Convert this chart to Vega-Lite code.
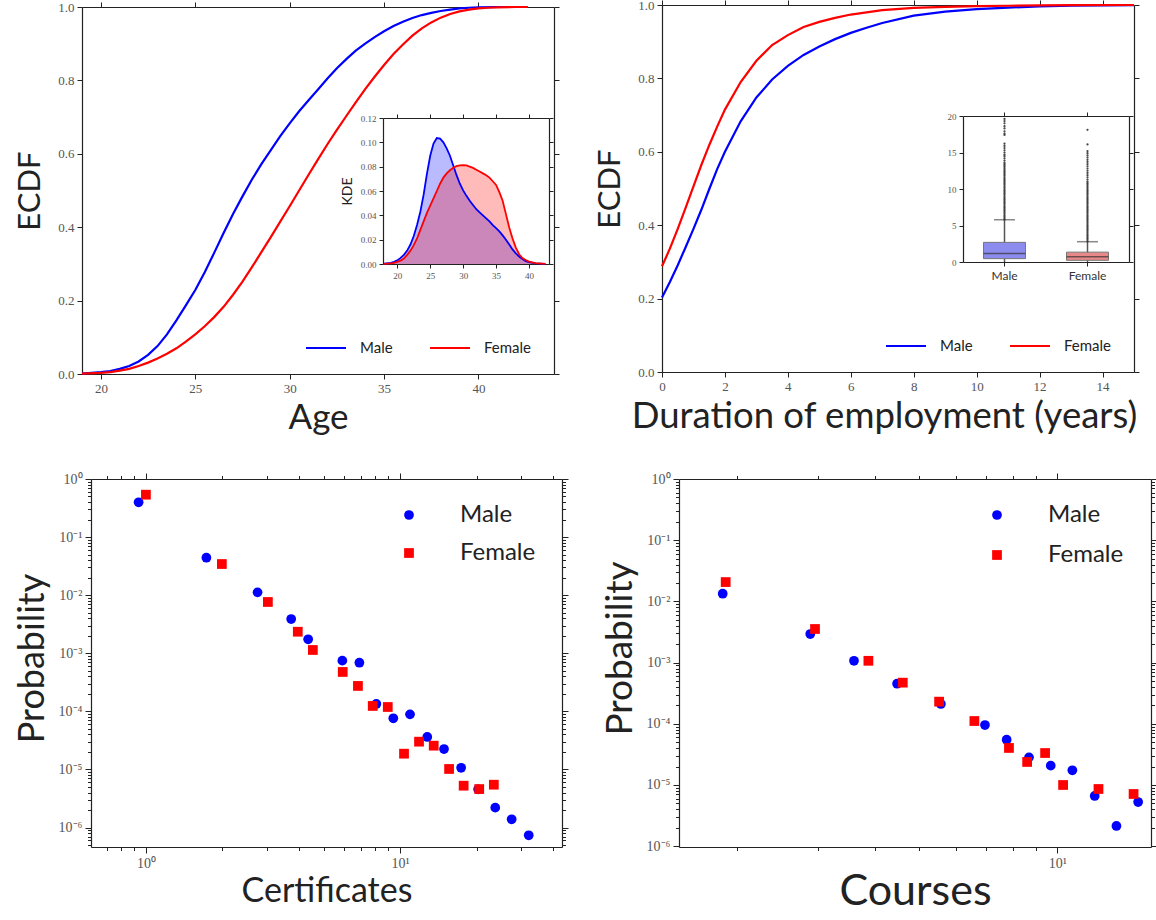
{
  "$schema": "https://vega.github.io/schema/vega-lite/v6.json",
  "width": 1156,
  "height": 920,
  "autosize": {"type": "none"},
  "padding": 0,
  "background": "white",
  "config": {
    "view": {"stroke": null},
    "axis": {"domainColor": "#222", "domainWidth": 1.2, "tickColor": "#222", "tickWidth": 1, "tickSize": 5, "labelFont": "Liberation Serif", "labelFontSize": 13, "labelColor": "#555", "labelPadding": 3, "titleFont": "Lato", "titleFontWeight": "normal", "titleColor": "#222", "grid": false, "labelOverlap": false, "labelFlush": false, "labelBound": false},
    "legend": {"padding": 0, "labelFont": "Lato", "labelColor": "#222"}
  },
  "datasets": {
    "ecdfAge": [
      {"sex":"Male","age":19.0,"ecdf":0.001},{"sex":"Male","age":20.0,"ecdf":0.005},{"sex":"Male","age":20.5,"ecdf":0.008},{"sex":"Male","age":21.0,"ecdf":0.014},{"sex":"Male","age":21.5,"ecdf":0.022},{"sex":"Male","age":22.0,"ecdf":0.034},{"sex":"Male","age":22.5,"ecdf":0.052},{"sex":"Male","age":23.0,"ecdf":0.076},{"sex":"Male","age":23.5,"ecdf":0.108},{"sex":"Male","age":24.0,"ecdf":0.146},{"sex":"Male","age":24.5,"ecdf":0.187},{"sex":"Male","age":25.0,"ecdf":0.229},{"sex":"Male","age":25.5,"ecdf":0.277},{"sex":"Male","age":26.0,"ecdf":0.330},{"sex":"Male","age":26.5,"ecdf":0.384},{"sex":"Male","age":27.0,"ecdf":0.436},{"sex":"Male","age":27.5,"ecdf":0.484},{"sex":"Male","age":28.0,"ecdf":0.530},{"sex":"Male","age":28.5,"ecdf":0.572},{"sex":"Male","age":29.0,"ecdf":0.610},{"sex":"Male","age":29.5,"ecdf":0.648},{"sex":"Male","age":30.0,"ecdf":0.683},{"sex":"Male","age":30.5,"ecdf":0.716},{"sex":"Male","age":31.0,"ecdf":0.746},{"sex":"Male","age":31.5,"ecdf":0.775},{"sex":"Male","age":32.0,"ecdf":0.805},{"sex":"Male","age":32.5,"ecdf":0.833},{"sex":"Male","age":33.0,"ecdf":0.858},{"sex":"Male","age":33.5,"ecdf":0.881},{"sex":"Male","age":34.0,"ecdf":0.900},{"sex":"Male","age":34.5,"ecdf":0.918},{"sex":"Male","age":35.0,"ecdf":0.934},{"sex":"Male","age":35.5,"ecdf":0.948},{"sex":"Male","age":36.0,"ecdf":0.960},{"sex":"Male","age":36.5,"ecdf":0.970},{"sex":"Male","age":37.0,"ecdf":0.978},{"sex":"Male","age":37.5,"ecdf":0.984},{"sex":"Male","age":38.0,"ecdf":0.989},{"sex":"Male","age":38.5,"ecdf":0.993},{"sex":"Male","age":39.0,"ecdf":0.996},{"sex":"Male","age":39.5,"ecdf":0.998},{"sex":"Male","age":40.0,"ecdf":0.999},{"sex":"Male","age":41.0,"ecdf":1.0},{"sex":"Male","age":42.6,"ecdf":1.0},
      {"sex":"Female","age":19.0,"ecdf":0.001},{"sex":"Female","age":20.0,"ecdf":0.003},{"sex":"Female","age":20.5,"ecdf":0.005},{"sex":"Female","age":21.0,"ecdf":0.009},{"sex":"Female","age":21.5,"ecdf":0.014},{"sex":"Female","age":22.0,"ecdf":0.022},{"sex":"Female","age":22.5,"ecdf":0.031},{"sex":"Female","age":23.0,"ecdf":0.042},{"sex":"Female","age":23.5,"ecdf":0.055},{"sex":"Female","age":24.0,"ecdf":0.070},{"sex":"Female","age":24.5,"ecdf":0.088},{"sex":"Female","age":25.0,"ecdf":0.108},{"sex":"Female","age":25.5,"ecdf":0.130},{"sex":"Female","age":26.0,"ecdf":0.155},{"sex":"Female","age":26.5,"ecdf":0.183},{"sex":"Female","age":27.0,"ecdf":0.216},{"sex":"Female","age":27.5,"ecdf":0.252},{"sex":"Female","age":28.0,"ecdf":0.291},{"sex":"Female","age":28.5,"ecdf":0.332},{"sex":"Female","age":29.0,"ecdf":0.373},{"sex":"Female","age":29.5,"ecdf":0.415},{"sex":"Female","age":30.0,"ecdf":0.457},{"sex":"Female","age":30.5,"ecdf":0.500},{"sex":"Female","age":31.0,"ecdf":0.543},{"sex":"Female","age":31.5,"ecdf":0.585},{"sex":"Female","age":32.0,"ecdf":0.626},{"sex":"Female","age":32.5,"ecdf":0.665},{"sex":"Female","age":33.0,"ecdf":0.703},{"sex":"Female","age":33.5,"ecdf":0.740},{"sex":"Female","age":34.0,"ecdf":0.776},{"sex":"Female","age":34.5,"ecdf":0.810},{"sex":"Female","age":35.0,"ecdf":0.842},{"sex":"Female","age":35.5,"ecdf":0.872},{"sex":"Female","age":36.0,"ecdf":0.898},{"sex":"Female","age":36.5,"ecdf":0.922},{"sex":"Female","age":37.0,"ecdf":0.942},{"sex":"Female","age":37.5,"ecdf":0.958},{"sex":"Female","age":38.0,"ecdf":0.971},{"sex":"Female","age":38.5,"ecdf":0.981},{"sex":"Female","age":39.0,"ecdf":0.988},{"sex":"Female","age":39.5,"ecdf":0.993},{"sex":"Female","age":40.0,"ecdf":0.996},{"sex":"Female","age":40.5,"ecdf":0.998},{"sex":"Female","age":41.0,"ecdf":0.999},{"sex":"Female","age":42.0,"ecdf":1.0},{"sex":"Female","age":42.6,"ecdf":1.0}
    ],
    "ecdfDur": [
      {"sex":"Male","t":0.0,"ecdf":0.203},{"sex":"Male","t":0.25,"ecdf":0.245},{"sex":"Male","t":0.5,"ecdf":0.291},{"sex":"Male","t":0.75,"ecdf":0.340},{"sex":"Male","t":1.0,"ecdf":0.390},{"sex":"Male","t":1.25,"ecdf":0.442},{"sex":"Male","t":1.5,"ecdf":0.498},{"sex":"Male","t":1.75,"ecdf":0.552},{"sex":"Male","t":2.0,"ecdf":0.600},{"sex":"Male","t":2.5,"ecdf":0.683},{"sex":"Male","t":3.0,"ecdf":0.748},{"sex":"Male","t":3.5,"ecdf":0.797},{"sex":"Male","t":4.0,"ecdf":0.834},{"sex":"Male","t":4.5,"ecdf":0.864},{"sex":"Male","t":5.0,"ecdf":0.887},{"sex":"Male","t":5.5,"ecdf":0.907},{"sex":"Male","t":6.0,"ecdf":0.924},{"sex":"Male","t":6.5,"ecdf":0.938},{"sex":"Male","t":7.0,"ecdf":0.951},{"sex":"Male","t":8.0,"ecdf":0.971},{"sex":"Male","t":9.0,"ecdf":0.982},{"sex":"Male","t":10.0,"ecdf":0.989},{"sex":"Male","t":11.0,"ecdf":0.993},{"sex":"Male","t":12.0,"ecdf":0.996},{"sex":"Male","t":13.0,"ecdf":0.998},{"sex":"Male","t":14.0,"ecdf":0.999},{"sex":"Male","t":15.0,"ecdf":0.9995},
      {"sex":"Female","t":0.0,"ecdf":0.288},{"sex":"Female","t":0.25,"ecdf":0.336},{"sex":"Female","t":0.5,"ecdf":0.390},{"sex":"Female","t":0.75,"ecdf":0.447},{"sex":"Female","t":1.0,"ecdf":0.506},{"sex":"Female","t":1.25,"ecdf":0.564},{"sex":"Female","t":1.5,"ecdf":0.618},{"sex":"Female","t":1.75,"ecdf":0.668},{"sex":"Female","t":2.0,"ecdf":0.715},{"sex":"Female","t":2.5,"ecdf":0.790},{"sex":"Female","t":3.0,"ecdf":0.848},{"sex":"Female","t":3.5,"ecdf":0.891},{"sex":"Female","t":4.0,"ecdf":0.918},{"sex":"Female","t":4.5,"ecdf":0.940},{"sex":"Female","t":5.0,"ecdf":0.954},{"sex":"Female","t":5.5,"ecdf":0.965},{"sex":"Female","t":6.0,"ecdf":0.974},{"sex":"Female","t":7.0,"ecdf":0.986},{"sex":"Female","t":8.0,"ecdf":0.992},{"sex":"Female","t":9.0,"ecdf":0.995},{"sex":"Female","t":10.0,"ecdf":0.997},{"sex":"Female","t":11.0,"ecdf":0.998},{"sex":"Female","t":12.0,"ecdf":0.999},{"sex":"Female","t":13.0,"ecdf":0.9995},{"sex":"Female","t":15.0,"ecdf":1.0}
    ],
    "kde": [
      {"sex":"Male","age":18.0,"kde":0.0002},{"sex":"Male","age":19.0,"kde":0.001},{"sex":"Male","age":19.5,"kde":0.0018},{"sex":"Male","age":20.0,"kde":0.003},{"sex":"Male","age":20.5,"kde":0.005},{"sex":"Male","age":21.0,"kde":0.0075},{"sex":"Male","age":21.5,"kde":0.011},{"sex":"Male","age":22.0,"kde":0.016},{"sex":"Male","age":22.5,"kde":0.023},{"sex":"Male","age":23.0,"kde":0.032},{"sex":"Male","age":23.5,"kde":0.043},{"sex":"Male","age":24.0,"kde":0.057},{"sex":"Male","age":24.5,"kde":0.074},{"sex":"Male","age":25.0,"kde":0.089},{"sex":"Male","age":25.5,"kde":0.099},{"sex":"Male","age":26.0,"kde":0.1035},{"sex":"Male","age":26.5,"kde":0.103},{"sex":"Male","age":27.0,"kde":0.100},{"sex":"Male","age":27.5,"kde":0.095},{"sex":"Male","age":28.0,"kde":0.089},{"sex":"Male","age":28.5,"kde":0.081},{"sex":"Male","age":29.0,"kde":0.073},{"sex":"Male","age":29.5,"kde":0.066},{"sex":"Male","age":30.0,"kde":0.0605},{"sex":"Male","age":30.5,"kde":0.056},{"sex":"Male","age":31.0,"kde":0.052},{"sex":"Male","age":31.5,"kde":0.0485},{"sex":"Male","age":32.0,"kde":0.045},{"sex":"Male","age":32.5,"kde":0.0425},{"sex":"Male","age":33.0,"kde":0.040},{"sex":"Male","age":33.5,"kde":0.0375},{"sex":"Male","age":34.0,"kde":0.035},{"sex":"Male","age":34.5,"kde":0.032},{"sex":"Male","age":35.0,"kde":0.0295},{"sex":"Male","age":35.5,"kde":0.0268},{"sex":"Male","age":36.0,"kde":0.0235},{"sex":"Male","age":36.5,"kde":0.020},{"sex":"Male","age":37.0,"kde":0.016},{"sex":"Male","age":37.5,"kde":0.012},{"sex":"Male","age":38.0,"kde":0.0088},{"sex":"Male","age":38.5,"kde":0.0062},{"sex":"Male","age":39.0,"kde":0.004},{"sex":"Male","age":39.5,"kde":0.0024},{"sex":"Male","age":40.0,"kde":0.0015},{"sex":"Male","age":41.0,"kde":0.0005},{"sex":"Male","age":42.5,"kde":0.0001},
      {"sex":"Female","age":18.0,"kde":0.0001},{"sex":"Female","age":19.0,"kde":0.0005},{"sex":"Female","age":19.5,"kde":0.001},{"sex":"Female","age":20.0,"kde":0.0018},{"sex":"Female","age":20.5,"kde":0.0028},{"sex":"Female","age":21.0,"kde":0.0045},{"sex":"Female","age":21.5,"kde":0.0075},{"sex":"Female","age":22.0,"kde":0.011},{"sex":"Female","age":22.5,"kde":0.0155},{"sex":"Female","age":23.0,"kde":0.021},{"sex":"Female","age":23.5,"kde":0.028},{"sex":"Female","age":24.0,"kde":0.035},{"sex":"Female","age":24.5,"kde":0.042},{"sex":"Female","age":25.0,"kde":0.048},{"sex":"Female","age":25.5,"kde":0.054},{"sex":"Female","age":26.0,"kde":0.060},{"sex":"Female","age":26.5,"kde":0.066},{"sex":"Female","age":27.0,"kde":0.071},{"sex":"Female","age":27.5,"kde":0.0745},{"sex":"Female","age":28.0,"kde":0.077},{"sex":"Female","age":28.5,"kde":0.079},{"sex":"Female","age":29.0,"kde":0.0805},{"sex":"Female","age":29.5,"kde":0.081},{"sex":"Female","age":30.0,"kde":0.0812},{"sex":"Female","age":30.5,"kde":0.081},{"sex":"Female","age":31.0,"kde":0.080},{"sex":"Female","age":31.5,"kde":0.079},{"sex":"Female","age":32.0,"kde":0.0775},{"sex":"Female","age":32.5,"kde":0.076},{"sex":"Female","age":33.0,"kde":0.0745},{"sex":"Female","age":33.5,"kde":0.073},{"sex":"Female","age":34.0,"kde":0.071},{"sex":"Female","age":34.5,"kde":0.068},{"sex":"Female","age":35.0,"kde":0.065},{"sex":"Female","age":35.5,"kde":0.059},{"sex":"Female","age":36.0,"kde":0.052},{"sex":"Female","age":36.5,"kde":0.041},{"sex":"Female","age":37.0,"kde":0.030},{"sex":"Female","age":37.5,"kde":0.021},{"sex":"Female","age":38.0,"kde":0.0135},{"sex":"Female","age":38.5,"kde":0.008},{"sex":"Female","age":39.0,"kde":0.0048},{"sex":"Female","age":39.5,"kde":0.0033},{"sex":"Female","age":40.0,"kde":0.002},{"sex":"Female","age":41.0,"kde":0.0007},{"sex":"Female","age":42.5,"kde":0.0001}
    ],
    "box": [
      {"sex":"Male","lo":0,"q1":0.46,"med":1.18,"q3":2.69,"hi":5.79},
      {"sex":"Female","lo":0,"q1":0.23,"med":0.73,"q3":1.35,"hi":2.78}
    ],
    "outl": [
      {"sex":"Male","v":5.8},{"sex":"Male","v":6.0},{"sex":"Male","v":6.2},{"sex":"Male","v":6.4},{"sex":"Male","v":6.6},{"sex":"Male","v":6.8},{"sex":"Male","v":7.0},{"sex":"Male","v":7.2},{"sex":"Male","v":7.4},{"sex":"Male","v":7.6},{"sex":"Male","v":7.8},{"sex":"Male","v":8.0},{"sex":"Male","v":8.2},{"sex":"Male","v":8.4},{"sex":"Male","v":8.6},{"sex":"Male","v":8.8},{"sex":"Male","v":9.0},{"sex":"Male","v":9.2},{"sex":"Male","v":9.4},{"sex":"Male","v":9.6},{"sex":"Male","v":9.8},{"sex":"Male","v":10.0},{"sex":"Male","v":10.2},{"sex":"Male","v":10.4},{"sex":"Male","v":10.6},{"sex":"Male","v":10.8},{"sex":"Male","v":11.0},{"sex":"Male","v":11.2},{"sex":"Male","v":11.4},{"sex":"Male","v":11.6},{"sex":"Male","v":11.8},{"sex":"Male","v":12.0},{"sex":"Male","v":12.2},{"sex":"Male","v":12.4},{"sex":"Male","v":12.6},{"sex":"Male","v":12.8},{"sex":"Male","v":13.0},{"sex":"Male","v":13.2},{"sex":"Male","v":13.4},{"sex":"Male","v":13.6},{"sex":"Male","v":13.9},{"sex":"Male","v":14.2},{"sex":"Male","v":14.5},{"sex":"Male","v":14.7},{"sex":"Male","v":15.0},{"sex":"Male","v":15.3},{"sex":"Male","v":15.6},{"sex":"Male","v":15.9},{"sex":"Male","v":16.2},{"sex":"Male","v":17.4},{"sex":"Male","v":17.6},{"sex":"Male","v":17.9},{"sex":"Male","v":18.3},{"sex":"Male","v":18.6},{"sex":"Male","v":19.0},{"sex":"Male","v":19.3},{"sex":"Male","v":19.6},
      {"sex":"Female","v":2.8},{"sex":"Female","v":3.0},{"sex":"Female","v":3.2},{"sex":"Female","v":3.4},{"sex":"Female","v":3.6},{"sex":"Female","v":3.8},{"sex":"Female","v":4.0},{"sex":"Female","v":4.2},{"sex":"Female","v":4.4},{"sex":"Female","v":4.6},{"sex":"Female","v":4.8},{"sex":"Female","v":5.0},{"sex":"Female","v":5.2},{"sex":"Female","v":5.4},{"sex":"Female","v":5.6},{"sex":"Female","v":5.8},{"sex":"Female","v":6.0},{"sex":"Female","v":6.2},{"sex":"Female","v":6.4},{"sex":"Female","v":6.6},{"sex":"Female","v":6.8},{"sex":"Female","v":7.0},{"sex":"Female","v":7.2},{"sex":"Female","v":7.4},{"sex":"Female","v":7.6},{"sex":"Female","v":7.8},{"sex":"Female","v":8.0},{"sex":"Female","v":8.2},{"sex":"Female","v":8.4},{"sex":"Female","v":8.6},{"sex":"Female","v":8.8},{"sex":"Female","v":9.0},{"sex":"Female","v":9.2},{"sex":"Female","v":9.4},{"sex":"Female","v":9.6},{"sex":"Female","v":9.8},{"sex":"Female","v":10.0},{"sex":"Female","v":10.2},{"sex":"Female","v":10.4},{"sex":"Female","v":10.6},{"sex":"Female","v":10.8},{"sex":"Female","v":11.0},{"sex":"Female","v":11.3},{"sex":"Female","v":11.6},{"sex":"Female","v":11.9},{"sex":"Female","v":12.2},{"sex":"Female","v":12.5},{"sex":"Female","v":12.8},{"sex":"Female","v":13.1},{"sex":"Female","v":13.4},{"sex":"Female","v":13.7},{"sex":"Female","v":14.0},{"sex":"Female","v":14.3},{"sex":"Female","v":14.6},{"sex":"Female","v":14.9},{"sex":"Female","v":15.2},{"sex":"Female","v":16.1},{"sex":"Female","v":18.1}
    ],
    "cert": [
      {"sex":"Male","x":0.936,"p":0.397},{"sex":"Male","x":1.73,"p":0.0442},{"sex":"Male","x":2.75,"p":0.0112},{"sex":"Male","x":3.73,"p":0.00389},{"sex":"Male","x":4.35,"p":0.00174},{"sex":"Male","x":5.93,"p":0.000746},{"sex":"Male","x":6.92,"p":0.000689},{"sex":"Male","x":8.07,"p":0.000134},{"sex":"Male","x":9.41,"p":0.000076},{"sex":"Male","x":10.95,"p":0.000089},{"sex":"Male","x":12.8,"p":0.0000363},{"sex":"Male","x":14.9,"p":0.0000225},{"sex":"Male","x":17.4,"p":0.0000107},{"sex":"Male","x":20.3,"p":0.00000456},{"sex":"Male","x":23.7,"p":0.0000022},{"sex":"Male","x":27.5,"p":0.00000139},{"sex":"Male","x":32.1,"p":0.000000737},
      {"sex":"Female","x":1.0,"p":0.537},{"sex":"Female","x":1.99,"p":0.0344},{"sex":"Female","x":3.02,"p":0.00764},{"sex":"Female","x":3.96,"p":0.00235},{"sex":"Female","x":4.54,"p":0.00114},{"sex":"Female","x":5.95,"p":0.000477},{"sex":"Female","x":6.83,"p":0.000274},{"sex":"Female","x":7.81,"p":0.000124},{"sex":"Female","x":8.95,"p":0.000119},{"sex":"Female","x":10.37,"p":0.0000187},{"sex":"Female","x":11.88,"p":0.0000301},{"sex":"Female","x":13.57,"p":0.0000257},{"sex":"Female","x":15.6,"p":0.0000102},{"sex":"Female","x":17.8,"p":0.00000526},{"sex":"Female","x":20.5,"p":0.0000046},{"sex":"Female","x":23.4,"p":0.00000547}
    ],
    "courses": [
      {"sex":"Male","x":1.862,"p":0.01336},{"sex":"Male","x":2.89,"p":0.00293},{"sex":"Male","x":3.6,"p":0.00107},{"sex":"Male","x":4.47,"p":0.000452},{"sex":"Male","x":5.57,"p":0.000211},{"sex":"Male","x":6.95,"p":0.0000955},{"sex":"Male","x":7.75,"p":0.000055},{"sex":"Male","x":8.67,"p":0.0000283},{"sex":"Male","x":9.67,"p":0.0000207},{"sex":"Male","x":10.78,"p":0.0000174},{"sex":"Male","x":12.06,"p":0.00000661},{"sex":"Male","x":13.45,"p":0.00000214},{"sex":"Male","x":15.0,"p":0.00000527},
      {"sex":"Female","x":1.89,"p":0.0207},{"sex":"Female","x":2.96,"p":0.00354},{"sex":"Female","x":3.87,"p":0.00107},{"sex":"Female","x":4.6,"p":0.00047},{"sex":"Female","x":5.52,"p":0.00023},{"sex":"Female","x":6.59,"p":0.000111},{"sex":"Female","x":7.84,"p":0.0000403},{"sex":"Female","x":8.59,"p":0.0000238},{"sex":"Female","x":9.4,"p":0.0000333},{"sex":"Female","x":10.29,"p":0.00001},{"sex":"Female","x":12.29,"p":0.0000086},{"sex":"Female","x":14.66,"p":0.00000713}
    ]
  },
  "resolve": {
    "scale": {"x": "independent", "y": "independent", "color": "independent", "shape": "independent"},
    "axis": {"x": "independent", "y": "independent"},
    "legend": {"color": "independent", "shape": "independent"}
  },
  "layer": [
    {
      "data": {"name": "ecdfAge"},
      "mark": {"type": "line", "strokeWidth": 2.2},
      "encoding": {
        "x": {"field": "age", "type": "quantitative", "scale": {"domain": [19, 44], "range": [82, 554], "nice": false, "zero": false},
          "axis": {"orient": "bottom", "offset": -546, "values": [20, 25, 30, 35, 40], "title": "Age", "titleFontSize": 35, "titlePadding": 5}},
        "y": {"field": "ecdf", "type": "quantitative", "scale": {"domain": [0, 1], "range": [374, 7], "nice": false, "zero": false},
          "axis": {"orient": "left", "offset": -82, "values": [0, 0.2, 0.4, 0.6, 0.8, 1], "format": ".1f", "title": "ECDF", "titleFontSize": 31, "titlePadding": 11}},
        "color": {"field": "sex", "type": "nominal", "scale": {"domain": ["Male", "Female"], "range": ["#0000ff", "#ff0000"]},
          "legend": {"orient": "none", "legendX": 305, "legendY": 327, "direction": "horizontal", "title": null, "symbolType": "stroke", "symbolSize": 1600, "symbolStrokeWidth": 2, "labelFontSize": 15, "labelOffset": 13, "columnPadding": 33}}
      }
    },
    {
      "data": {"name": "ecdfAge"},
      "mark": {"type": "point", "opacity": 0},
      "encoding": {
        "x": {"field": "age", "type": "quantitative", "scale": {"domain": [19, 44], "range": [82, 554], "nice": false, "zero": false},
          "axis": {"orient": "top", "offset": -7, "values": [20, 25, 30, 35, 40], "labels": false, "title": null}},
        "y": {"field": "ecdf", "type": "quantitative", "scale": {"domain": [0, 1], "range": [374, 7], "nice": false, "zero": false},
          "axis": {"orient": "right", "offset": -602, "values": [0, 0.2, 0.4, 0.6, 0.8, 1], "labels": false, "title": null}}
      }
    },
    {
      "data": {"name": "kde"},
      "mark": {"type": "area", "fillOpacity": 0.27},
      "encoding": {
        "x": {"field": "age", "type": "quantitative", "scale": {"domain": [17.83, 43.04], "range": [383, 549], "nice": false, "zero": false},
          "axis": {"orient": "bottom", "offset": -656, "values": [20, 25, 30, 35, 40], "title": null, "labelFontSize": 9, "tickSize": 4}},
        "y": {"field": "kde", "type": "quantitative", "stack": null, "scale": {"domain": [0, 0.12], "range": [264, 118], "nice": false, "zero": false},
          "axis": {"orient": "left", "offset": -383, "values": [0, 0.02, 0.04, 0.06, 0.08, 0.1, 0.12], "format": ".2f", "title": "KDE", "titleFontSize": 14, "titlePadding": 6, "labelFontSize": 9, "tickSize": 4}},
        "y2": {"datum": 0},
        "color": {"field": "sex", "type": "nominal", "scale": {"domain": ["Male", "Female"], "range": ["#0000ff", "#ff0000"]}, "legend": null}
      }
    },
    {
      "data": {"name": "kde"},
      "mark": {"type": "line", "strokeWidth": 1.8},
      "encoding": {
        "x": {"field": "age", "type": "quantitative", "scale": {"domain": [17.83, 43.04], "range": [383, 549], "nice": false, "zero": false},
          "axis": {"orient": "top", "offset": -118, "values": [20, 25, 30, 35, 40], "labels": false, "title": null, "tickSize": 4}},
        "y": {"field": "kde", "type": "quantitative", "scale": {"domain": [0, 0.12], "range": [264, 118], "nice": false, "zero": false},
          "axis": {"orient": "right", "offset": -607, "values": [0, 0.02, 0.04, 0.06, 0.08, 0.1, 0.12], "labels": false, "title": null, "tickSize": 4}},
        "color": {"field": "sex", "type": "nominal", "scale": {"domain": ["Male", "Female"], "range": ["#0000ff", "#ff0000"]}, "legend": null}
      }
    },
    {
      "data": {"name": "ecdfDur"},
      "mark": {"type": "line", "strokeWidth": 2.2},
      "encoding": {
        "x": {"field": "t", "type": "quantitative", "scale": {"domain": [0, 15], "range": [662, 1134], "nice": false, "zero": false},
          "axis": {"orient": "bottom", "offset": -548, "values": [0, 2, 4, 6, 8, 10, 12, 14], "format": "d", "title": "Duration of employment (years)", "titleFontSize": 36.5, "titlePadding": 5, "titleX": 884}},
        "y": {"field": "ecdf", "type": "quantitative", "scale": {"domain": [0, 1], "range": [372, 5], "nice": false, "zero": false},
          "axis": {"orient": "left", "offset": -662, "values": [0, 0.2, 0.4, 0.6, 0.8, 1], "format": ".1f", "title": "ECDF", "titleFontSize": 31, "titlePadding": 11}},
        "color": {"field": "sex", "type": "nominal", "scale": {"domain": ["Male", "Female"], "range": ["#0000ff", "#ff0000"]},
          "legend": {"orient": "none", "legendX": 885, "legendY": 325, "direction": "horizontal", "title": null, "symbolType": "stroke", "symbolSize": 1600, "symbolStrokeWidth": 2, "labelFontSize": 15, "labelOffset": 13, "columnPadding": 33}}
      }
    },
    {
      "data": {"name": "ecdfDur"},
      "mark": {"type": "point", "opacity": 0},
      "encoding": {
        "x": {"field": "t", "type": "quantitative", "scale": {"domain": [0, 15], "range": [662, 1134], "nice": false, "zero": false},
          "axis": {"orient": "top", "offset": -5, "values": [0, 2, 4, 6, 8, 10, 12, 14], "labels": false, "title": null}},
        "y": {"field": "ecdf", "type": "quantitative", "scale": {"domain": [0, 1], "range": [372, 5], "nice": false, "zero": false},
          "axis": {"orient": "right", "offset": -22, "values": [0, 0.2, 0.4, 0.6, 0.8, 1], "labels": false, "title": null}}
      }
    },
    {
      "data": {"name": "box"},
      "mark": {"type": "rule", "color": "#555", "strokeWidth": 1.5},
      "encoding": {
        "x": {"field": "sex", "type": "nominal", "sort": null, "scale": {"type": "band", "domain": ["Male", "Female"], "range": [963, 1129], "paddingInner": 0, "paddingOuter": 0},
          "axis": {"orient": "bottom", "offset": -658, "title": null, "labelFont": "Lato", "labelFontSize": 12, "labelColor": "#333", "labelAngle": 0, "tickSize": 4, "labelPadding": 4}},
        "y": {"field": "lo", "type": "quantitative", "scale": {"domain": [0, 20], "range": [262, 116], "nice": false, "zero": false},
          "axis": {"orient": "left", "offset": -963, "values": [0, 5, 10, 15, 20], "title": null, "labelFontSize": 9, "tickSize": 4}},
        "y2": {"field": "hi"}
      }
    },
    {
      "data": {"name": "box"},
      "mark": {"type": "bar", "width": 42, "stroke": "#777", "strokeWidth": 1},
      "encoding": {
        "x": {"field": "sex", "type": "nominal", "sort": null, "scale": {"type": "band", "domain": ["Male", "Female"], "range": [963, 1129], "paddingInner": 0, "paddingOuter": 0},
          "axis": {"orient": "top", "offset": -116, "labels": false, "title": null, "tickSize": 4}},
        "y": {"field": "q1", "type": "quantitative", "stack": null, "scale": {"domain": [0, 20], "range": [262, 116], "nice": false, "zero": false},
          "axis": {"orient": "right", "offset": -27, "values": [0, 5, 10, 15, 20], "labels": false, "title": null, "tickSize": 4}},
        "y2": {"field": "q3"},
        "color": {"field": "sex", "type": "nominal", "scale": {"domain": ["Male", "Female"], "range": ["#8c8cee", "#e88888"]}, "legend": null}
      }
    },
    {
      "data": {"name": "box"},
      "mark": {"type": "tick", "size": 42, "thickness": 1.5, "color": "#333"},
      "encoding": {
        "x": {"field": "sex", "type": "nominal", "sort": null, "scale": {"type": "band", "domain": ["Male", "Female"], "range": [963, 1129], "paddingInner": 0, "paddingOuter": 0}, "axis": null},
        "y": {"field": "med", "type": "quantitative", "scale": {"domain": [0, 20], "range": [262, 116], "nice": false, "zero": false}, "axis": null}
      }
    },
    {
      "data": {"name": "box"},
      "mark": {"type": "tick", "size": 21, "thickness": 1.5, "color": "#555"},
      "encoding": {
        "x": {"field": "sex", "type": "nominal", "sort": null, "scale": {"type": "band", "domain": ["Male", "Female"], "range": [963, 1129], "paddingInner": 0, "paddingOuter": 0}, "axis": null},
        "y": {"field": "hi", "type": "quantitative", "scale": {"domain": [0, 20], "range": [262, 116], "nice": false, "zero": false}, "axis": null}
      }
    },
    {
      "data": {"name": "outl"},
      "mark": {"type": "point", "filled": true, "size": 5, "color": "#333", "opacity": 0.9},
      "encoding": {
        "x": {"field": "sex", "type": "nominal", "sort": null, "scale": {"type": "band", "domain": ["Male", "Female"], "range": [963, 1129], "paddingInner": 0, "paddingOuter": 0}, "axis": null},
        "y": {"field": "v", "type": "quantitative", "scale": {"domain": [0, 20], "range": [262, 116], "nice": false, "zero": false}, "axis": null}
      }
    },
    {
      "data": {"name": "cert"},
      "mark": {"type": "point", "filled": true, "size": 95, "opacity": 1},
      "encoding": {
        "x": {"field": "x", "type": "quantitative", "scale": {"type": "log", "domain": [0.608, 43.4], "range": [91, 562], "nice": false},
          "axis": {"orient": "bottom", "offset": -73, "values": [0.7, 0.8, 0.9, 1, 2, 3, 4, 5, 6, 7, 8, 9, 10, 20, 30, 40], "labelExpr": "datum.value == 1 ? '10⁰' : datum.value == 10 ? '10¹' : ''", "labelFontSize": 14, "tickSize": {"condition": {"test": "datum.value == 1 || datum.value == 10", "value": 6}, "value": 3.5}, "title": "Certificates", "titleFontSize": 34, "titlePadding": 4}},
        "y": {"field": "p", "type": "quantitative", "scale": {"type": "log", "domain": [0.000000463, 1], "range": [847, 479], "nice": false},
          "axis": {"orient": "left", "offset": -91, "values": [0.0000005, 0.0000006, 0.0000007, 0.0000008, 0.0000009, 0.000001, 0.000002, 0.000003, 0.000004, 0.000005, 0.000006, 0.000007, 0.000008, 0.000009, 0.00001, 0.00002, 0.00003, 0.00004, 0.00005, 0.00006, 0.00007, 0.00008, 0.00009, 0.0001, 0.0002, 0.0003, 0.0004, 0.0005, 0.0006, 0.0007, 0.0008, 0.0009, 0.001, 0.002, 0.003, 0.004, 0.005, 0.006, 0.007, 0.008, 0.009, 0.01, 0.02, 0.03, 0.04, 0.05, 0.06, 0.07, 0.08, 0.09, 0.1, 0.2, 0.3, 0.4, 0.5, 0.6, 0.7, 0.8, 0.9, 1],
            "labelExpr": "datum.value == 1 ? '10⁰' : datum.value == 0.1 ? '10⁻¹' : datum.value == 0.01 ? '10⁻²' : datum.value == 0.001 ? '10⁻³' : datum.value == 0.0001 ? '10⁻⁴' : datum.value == 0.00001 ? '10⁻⁵' : datum.value == 0.000001 ? '10⁻⁶' : ''",
            "labelFontSize": 14, "tickSize": {"condition": {"test": "indexof([1, 0.1, 0.01, 0.001, 0.0001, 0.00001, 0.000001], datum.value) >= 0", "value": 6}, "value": 3.5}, "title": "Probability", "titleFontSize": 36, "titlePadding": 7, "titleY": 658}},
        "color": {"field": "sex", "type": "nominal", "scale": {"domain": ["Male", "Female"], "range": ["#0000ff", "#ff0000"]},
          "legend": {"orient": "none", "legendX": 397, "legendY": 503, "direction": "vertical", "title": null, "symbolSize": 95, "labelFontSize": 24, "labelOffset": 39, "rowPadding": 14}},
        "shape": {"field": "sex", "type": "nominal", "scale": {"domain": ["Male", "Female"], "range": ["circle", "square"]},
          "legend": {"orient": "none", "legendX": 397, "legendY": 503, "direction": "vertical", "title": null, "symbolSize": 95, "labelFontSize": 24, "labelOffset": 39, "rowPadding": 14}}
      }
    },
    {
      "data": {"name": "cert"},
      "mark": {"type": "point", "opacity": 0},
      "encoding": {
        "x": {"field": "x", "type": "quantitative", "scale": {"type": "log", "domain": [0.608, 43.4], "range": [91, 562], "nice": false},
          "axis": {"orient": "top", "offset": -479, "values": [0.7, 0.8, 0.9, 1, 2, 3, 4, 5, 6, 7, 8, 9, 10, 20, 30, 40], "labels": false, "tickSize": {"condition": {"test": "datum.value == 1 || datum.value == 10", "value": 6}, "value": 3.5}, "title": null}},
        "y": {"field": "p", "type": "quantitative", "scale": {"type": "log", "domain": [0.000000463, 1], "range": [847, 479], "nice": false},
          "axis": {"orient": "right", "offset": -594, "values": [0.0000005, 0.0000006, 0.0000007, 0.0000008, 0.0000009, 0.000001, 0.000002, 0.000003, 0.000004, 0.000005, 0.000006, 0.000007, 0.000008, 0.000009, 0.00001, 0.00002, 0.00003, 0.00004, 0.00005, 0.00006, 0.00007, 0.00008, 0.00009, 0.0001, 0.0002, 0.0003, 0.0004, 0.0005, 0.0006, 0.0007, 0.0008, 0.0009, 0.001, 0.002, 0.003, 0.004, 0.005, 0.006, 0.007, 0.008, 0.009, 0.01, 0.02, 0.03, 0.04, 0.05, 0.06, 0.07, 0.08, 0.09, 0.1, 0.2, 0.3, 0.4, 0.5, 0.6, 0.7, 0.8, 0.9, 1], "labels": false, "tickSize": {"condition": {"test": "indexof([1, 0.1, 0.01, 0.001, 0.0001, 0.00001, 0.000001], datum.value) >= 0", "value": 6}, "value": 3.5}, "title": null}}
      }
    },
    {
      "data": {"name": "courses"},
      "mark": {"type": "point", "filled": true, "size": 95, "opacity": 1},
      "encoding": {
        "x": {"field": "x", "type": "quantitative", "scale": {"type": "log", "domain": [1.495, 16.0], "range": [679, 1151], "nice": false},
          "axis": {"orient": "bottom", "offset": -73, "values": [2, 3, 4, 5, 6, 7, 8, 9, 10], "labelExpr": "datum.value == 10 ? '10¹' : ''", "labelFontSize": 14, "tickSize": {"condition": {"test": "datum.value == 10", "value": 6}, "value": 3.5}, "title": "Courses", "titleFontSize": 43, "titlePadding": 0}},
        "y": {"field": "p", "type": "quantitative", "scale": {"type": "log", "domain": [0.00000097, 1], "range": [847, 479], "nice": false},
          "axis": {"orient": "left", "offset": -679, "values": [0.000001, 0.000002, 0.000003, 0.000004, 0.000005, 0.000006, 0.000007, 0.000008, 0.000009, 0.00001, 0.00002, 0.00003, 0.00004, 0.00005, 0.00006, 0.00007, 0.00008, 0.00009, 0.0001, 0.0002, 0.0003, 0.0004, 0.0005, 0.0006, 0.0007, 0.0008, 0.0009, 0.001, 0.002, 0.003, 0.004, 0.005, 0.006, 0.007, 0.008, 0.009, 0.01, 0.02, 0.03, 0.04, 0.05, 0.06, 0.07, 0.08, 0.09, 0.1, 0.2, 0.3, 0.4, 0.5, 0.6, 0.7, 0.8, 0.9, 1],
            "labelExpr": "datum.value == 1 ? '10⁰' : datum.value == 0.1 ? '10⁻¹' : datum.value == 0.01 ? '10⁻²' : datum.value == 0.001 ? '10⁻³' : datum.value == 0.0001 ? '10⁻⁴' : datum.value == 0.00001 ? '10⁻⁵' : datum.value == 0.000001 ? '10⁻⁶' : ''",
            "labelFontSize": 14, "tickSize": {"condition": {"test": "indexof([1, 0.1, 0.01, 0.001, 0.0001, 0.00001, 0.000001], datum.value) >= 0", "value": 6}, "value": 3.5}, "title": "Probability", "titleFontSize": 37, "titlePadding": 7, "titleY": 648}},
        "color": {"field": "sex", "type": "nominal", "scale": {"domain": ["Male", "Female"], "range": ["#0000ff", "#ff0000"]},
          "legend": {"orient": "none", "legendX": 985, "legendY": 503, "direction": "vertical", "title": null, "symbolSize": 95, "labelFontSize": 24, "labelOffset": 39, "rowPadding": 16}},
        "shape": {"field": "sex", "type": "nominal", "scale": {"domain": ["Male", "Female"], "range": ["circle", "square"]},
          "legend": {"orient": "none", "legendX": 985, "legendY": 503, "direction": "vertical", "title": null, "symbolSize": 95, "labelFontSize": 24, "labelOffset": 39, "rowPadding": 16}}
      }
    },
    {
      "data": {"name": "courses"},
      "mark": {"type": "point", "opacity": 0},
      "encoding": {
        "x": {"field": "x", "type": "quantitative", "scale": {"type": "log", "domain": [1.495, 16.0], "range": [679, 1151], "nice": false},
          "axis": {"orient": "top", "offset": -479, "values": [2, 3, 4, 5, 6, 7, 8, 9, 10], "labels": false, "tickSize": {"condition": {"test": "datum.value == 10", "value": 6}, "value": 3.5}, "title": null}},
        "y": {"field": "p", "type": "quantitative", "scale": {"type": "log", "domain": [0.00000097, 1], "range": [847, 479], "nice": false},
          "axis": {"orient": "right", "offset": -5, "values": [0.000001, 0.000002, 0.000003, 0.000004, 0.000005, 0.000006, 0.000007, 0.000008, 0.000009, 0.00001, 0.00002, 0.00003, 0.00004, 0.00005, 0.00006, 0.00007, 0.00008, 0.00009, 0.0001, 0.0002, 0.0003, 0.0004, 0.0005, 0.0006, 0.0007, 0.0008, 0.0009, 0.001, 0.002, 0.003, 0.004, 0.005, 0.006, 0.007, 0.008, 0.009, 0.01, 0.02, 0.03, 0.04, 0.05, 0.06, 0.07, 0.08, 0.09, 0.1, 0.2, 0.3, 0.4, 0.5, 0.6, 0.7, 0.8, 0.9, 1], "labels": false, "tickSize": {"condition": {"test": "indexof([1, 0.1, 0.01, 0.001, 0.0001, 0.00001, 0.000001], datum.value) >= 0", "value": 6}, "value": 3.5}, "title": null}}
      }
    }
  ]
}
